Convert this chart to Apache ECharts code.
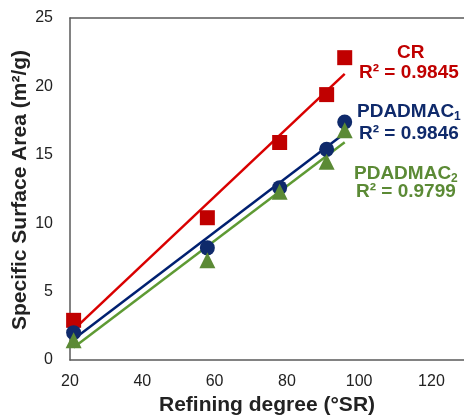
<!DOCTYPE html>
<html>
<head>
<meta charset="utf-8">
<script src="https://cdn.jsdelivr.net/npm/echarts@6/dist/echarts.min.js"></script>
<style>
  html, body { margin: 0; padding: 0; background: #fff; }
  #chart { width: 464px; height: 417px; }
</style>
</head>
<body>
<div id="chart"></div>
<script>
// refining degree (°SR) of each sample
var refining = [21, 58, 78, 91, 96];
// specific surface area (m2/g)
var crValues = [2.9, 10.4, 15.9, 19.4, 22.1];
var pdadmac1Values = [2.0, 8.2, 12.6, 15.4, 17.4];
var pdadmac2Values = [1.45, 7.3, 12.3, 14.5, 16.8];
var xTicks = [20, 40, 60, 80, 100, 120];

var RED = '#C00000', NAVY = '#0F2A6B', GREEN = '#5B8A35';
var FONT = 'Liberation Sans, Arial, sans-serif';

// least squares trendline, drawn between first and last x
function trend(xs, ys) {
    var n = xs.length, mx = 0, my = 0;
    for (var i = 0; i < n; i++) { mx += xs[i]; my += ys[i]; }
    mx /= n; my /= n;
    var sxy = 0, sxx = 0;
    for (var j = 0; j < n; j++) {
        sxy += (xs[j] - mx) * (ys[j] - my);
        sxx += (xs[j] - mx) * (xs[j] - mx);
    }
    var k = sxy / sxx, b = my - k * mx;
    var x0 = xs[0], x1 = xs[n - 1];
    return [[x0, k * x0 + b], [x1, k * x1 + b]];
}
function pairs(xs, ys) {
    return xs.map(function (x, i) { return [x, ys[i]]; });
}

var chart = echarts.init(document.getElementById('chart'));

function lineSeries(data, color) {
    return {
        type: 'line', data: data, symbol: 'none', silent: true, z: 2,
        lineStyle: { color: color, width: 2.5 }
    };
}
function dotSeries(data, symbol, size, color, z) {
    return {
        type: 'scatter', data: data, symbol: symbol, symbolSize: size, z: z,
        itemStyle: { color: color, opacity: 1 }
    };
}

var option = {
    animation: false,
    grid: { left: 70, top: 18, right: 0, bottom: 57, outerBoundsMode: 'none', containLabel: false },
    xAxis: [{
        type: 'value', min: 20, max: 129, interval: 20,
        name: 'Refining degree (°SR)', nameLocation: 'middle', nameGap: 35,
        nameTextStyle: { fontFamily: FONT, fontSize: 21, fontWeight: 'bold', color: '#222' },
        axisLine: { show: true, lineStyle: { color: '#595959', width: 1.5 } },
        axisTick: { show: false },
        splitLine: { show: false },
        axisLabel: {
            fontFamily: FONT, fontSize: 16, color: '#222', margin: 14,
            showMaxLabel: false,
            formatter: function (v) { return xTicks.indexOf(v) >= 0 ? String(v) : ''; }
        }
    }, {
        type: 'value', position: 'top', min: 20, max: 129,
        axisLine: { show: true, lineStyle: { color: '#595959', width: 1.5 } },
        axisTick: { show: false }, axisLabel: { show: false }, splitLine: { show: false }
    }],
    yAxis: {
        type: 'value', min: 0, max: 25, interval: 5,
        axisLine: { show: true, lineStyle: { color: '#595959', width: 1.5 } },
        axisTick: { show: false },
        splitLine: { show: false },
        axisLabel: { fontFamily: FONT, fontSize: 16, color: '#222', margin: 17 }
    },
    series: [
        lineSeries(trend(refining, crValues), '#D90000'),
        lineSeries(trend(refining, pdadmac1Values), '#002070'),
        lineSeries(trend(refining, pdadmac2Values), '#5E9A33'),
        dotSeries(pairs(refining, crValues), 'rect', 15, RED, 3),
        dotSeries(pairs(refining, pdadmac1Values), 'circle', 15, NAVY, 4),
        dotSeries(pairs(refining, pdadmac2Values), 'triangle', 16, GREEN, 5)
    ],
    graphic: [
        // y axis title, placed by hand
        { type: 'text', x: 20, y: 190, rotation: Math.PI / 2,
          style: { text: 'Specific Surface Area (m²/g)', fill: '#222', font: 'bold 21px ' + FONT, align: 'center', verticalAlign: 'middle' } },
        { type: 'text', left: 397, top: 43, style: { text: 'CR', fill: RED, font: 'bold 19px ' + FONT } },
        { type: 'text', left: 359, top: 63, style: { text: 'R² = 0.9845', fill: RED, font: 'bold 19px ' + FONT } },
        { type: 'text', left: 357, top: 102, style: { rich: { a: { fill: NAVY, font: 'bold 19px ' + FONT }, s: { fill: NAVY, font: 'bold 12px ' + FONT, padding: [10, 0, 0, 0] } }, text: '{a|PDADMAC}{s|1}' } },
        { type: 'text', left: 359, top: 124, style: { text: 'R² = 0.9846', fill: NAVY, font: 'bold 19px ' + FONT } },
        { type: 'text', left: 354, top: 164, style: { rich: { a: { fill: GREEN, font: 'bold 19px ' + FONT }, s: { fill: GREEN, font: 'bold 12px ' + FONT, padding: [10, 0, 0, 0] } }, text: '{a|PDADMAC}{s|2}' } },
        { type: 'text', left: 356, top: 182, style: { text: 'R² = 0.9799', fill: GREEN, font: 'bold 19px ' + FONT } }
    ]
};
chart.setOption(option);
</script>
</body>
</html>
